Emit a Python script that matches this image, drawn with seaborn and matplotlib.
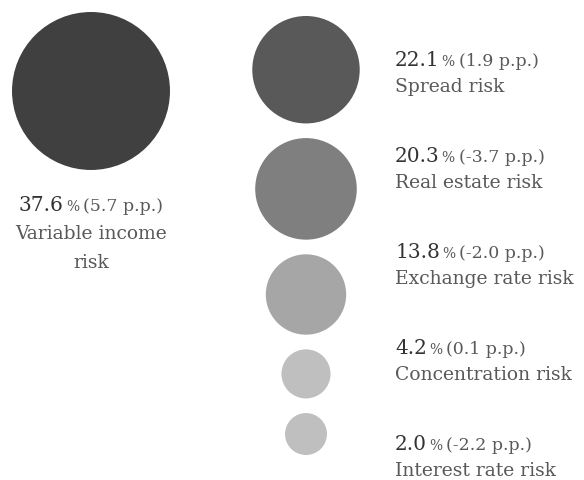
import textwrap
import numpy as np
import pandas as pd
import matplotlib
matplotlib.use("Agg")
import matplotlib.pyplot as plt
from matplotlib.transforms import IdentityTransform
import seaborn as sns

# ---------------- data ----------------
categories = ["Variable income risk", "Spread risk", "Real estate risk",
              "Exchange rate risk", "Concentration risk", "Interest rate risk"]
shares = [37.6, 22.1, 20.3, 13.8, 4.2, 2.0]          # % of total
changes = [5.7, 1.9, -3.7, -2.0, 0.1, -2.2]          # change in p.p.

# ---------------- style ----------------
colors = ["#404040", "#595959", "#7f7f7f", "#a6a6a6", "#bfbfbf", "#bfbfbf"]
SERIF = "DejaVu Serif"
NUM_COLOR = "#333333"
TXT_COLOR = "#595959"
NUM_SIZE, PCT_SIZE, PAR_SIZE, LAB_SIZE = 14.5, 10, 12.5, 13.5

sns.set_theme(style="white")
plt.rcParams["font.family"] = [SERIF, "DejaVu Sans"]

W, H, DPI = 584, 480, 100
fig = plt.figure(figsize=(W / DPI, H / DPI), dpi=DPI)
ax = fig.add_axes([0, 0, 1, 1])

# radius (px) grows linearly with the share
v = np.array(shares)
radius = 17.7 + 1.63 * v
area_pt2 = (2 * radius * 72 / DPI) ** 2

# layout: biggest bubble in its own column, others stacked in a column
big_cx, big_top = 91, 12
col_cx, col_top, col_bottom = 306, 16, 455
r_rest = radius[1:]
gap = (col_bottom - col_top - 2 * r_rest.sum()) / (len(r_rest) - 1)
ys = [big_top + radius[0]]
cur = col_top
for r in r_rest:
    ys.append(cur + r)
    cur += 2 * r + gap
xs = [big_cx] + [col_cx] * len(r_rest)

df = pd.DataFrame({"category": categories, "share": shares, "x": xs, "y": ys,
                   "area": area_pt2})

sns.scatterplot(data=df, x="x", y="y", hue="category", size="area",
                sizes=(area_pt2.min(), area_pt2.max()),
                size_norm=(area_pt2.min(), area_pt2.max()),
                palette=dict(zip(categories, colors)), linewidth=0,
                legend=False, ax=ax)
ax.set_xlim(0, W)
ax.set_ylim(H, 0)
ax.axis("off")

renderer = fig.canvas.get_renderer()


def rich_line(x, y, parts, ha="left"):
    X, Y = ax.transData.transform((x, y))
    texts, widths = [], []
    for txt, size, color, gap_after in parts:
        t = fig.text(0, 0, txt, fontsize=size, color=color, va="baseline",
                     ha="left", transform=IdentityTransform())
        texts.append(t)
        widths.append(t.get_window_extent(renderer).width + gap_after)
    total = sum(widths) - parts[-1][3]
    start = X - total / 2 if ha == "center" else X
    for t, w in zip(texts, widths):
        t.set_position((start, Y))
        start += w


def value_parts(share, change):
    return [(f"{share:.1f}", NUM_SIZE, NUM_COLOR, 2),
            ("%", PCT_SIZE, TXT_COLOR, 4),
            (f"({change:.1f} p.p.)", PAR_SIZE, TXT_COLOR, 0)]


# big bubble text, centred below it
base = big_top + 2 * radius[0] + 41
LINE = 28.5
rich_line(big_cx, base, value_parts(shares[0], changes[0]), ha="center")
for i, ln in enumerate(textwrap.wrap(categories[0], 15)):
    ax.text(big_cx, base + LINE * (i + 1), ln, fontsize=LAB_SIZE,
            color=TXT_COLOR, ha="center", va="baseline")

# column text rows
text_x, row_top, row_step, lab_off = 395, 66, 96, 26.5
for i in range(1, len(categories)):
    yb = row_top + row_step * (i - 1)
    rich_line(text_x, yb, value_parts(shares[i], changes[i]))
    ax.text(text_x, yb + lab_off, categories[i], fontsize=LAB_SIZE,
            color=TXT_COLOR, ha="left", va="baseline")

fig.savefig("out.png", dpi=DPI)
